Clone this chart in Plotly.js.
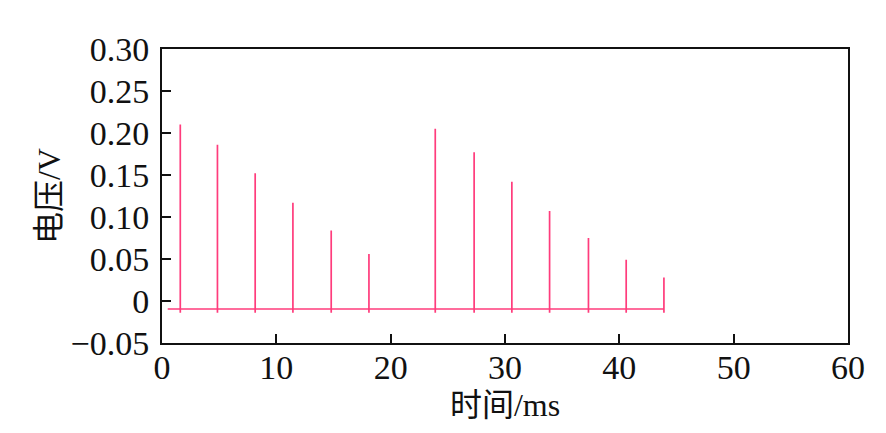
<!DOCTYPE html>
<html>
<head>
<meta charset="utf-8">
<script src="https://cdn.plot.ly/plotly-3.0.1.min.js"></script>
<style>
html, body { margin: 0; padding: 0; background: #fff; }
#chart { width: 886px; height: 433px; }
</style>
</head>
<body>
<div id="chart"></div>
<script>
// spike times (ms) and peak voltages (V)
var spikeTimes = [1.6, 4.85, 8.15, 11.45, 14.8, 18.1, 23.9, 27.3, 30.6, 33.9, 37.3, 40.6, 43.9]
var spikePeaks = [0.210, 0.186, 0.152, 0.117, 0.084, 0.056, 0.205, 0.177, 0.142, 0.107, 0.075, 0.049, 0.028]
var baseLevel = -0.0095
var dipLevel = -0.014
var startTime = 0.5

var xs = [startTime]
var ys = [baseLevel]
for (var i = 0; i < spikeTimes.length; i++)
{
	var t = spikeTimes[i]
	xs.push(t, t, t)
	ys.push(baseLevel, spikePeaks[i], dipLevel)
	if (i < spikeTimes.length - 1)
	{
		xs.push(t)
		ys.push(baseLevel)
	}
}
// last spike ends the record
xs.push(spikeTimes[spikeTimes.length-1])
ys.push(baseLevel)

var trace = {
	type: 'scatter',
	mode: 'lines',
	x: xs,
	y: ys,
	line: {color: '#ff3c7c', width: 1.7},
	hoverinfo: 'skip'
}

var fam = '"Liberation Serif", "Times New Roman", "Noto Sans CJK SC", serif'

var layout = {
	width: 886,
	height: 433,
	margin: {l: 162, r: 38, t: 49, b: 90},
	paper_bgcolor: '#fff',
	plot_bgcolor: '#fff',
	showlegend: false,
	font: {family: fam, size: 34, color: '#111'},
	xaxis: {
		range: [0, 60],
		tickvals: [0, 10, 20, 30, 40, 50, 60],
		ticktext: ['0', '10', '20', '30', '40', '50', '60'],
		tickfont: {family: fam, size: 34, color: '#111'},
		ticks: 'inside',
		ticklen: 9,
		tickwidth: 2,
		tickcolor: '#111',
		showline: true,
		linecolor: '#111',
		linewidth: 2,
		mirror: true,
		showgrid: false,
		zeroline: false,
		ticklabelstandoff: -7,
		title: {text: '时间/ms', font: {family: fam, size: 32}, standoff: 9}
	},
	yaxis: {
		range: [-0.05, 0.30],
		tickvals: [-0.05, 0, 0.05, 0.10, 0.15, 0.20, 0.25, 0.30],
		ticktext: ['\u22120.05', '0', '0.05', '0.10', '0.15', '0.20', '0.25', '0.30'],
		tickfont: {family: fam, size: 34, color: '#111'},
		ticks: 'inside',
		ticklen: 9,
		tickwidth: 2,
		tickcolor: '#111',
		showline: true,
		linecolor: '#111',
		linewidth: 2,
		mirror: true,
		showgrid: false,
		zeroline: false,
		ticklabelstandoff: 4,
		title: {text: '电压/V', font: {family: fam, size: 32}, standoff: 0}
	}
}

Plotly.newPlot('chart', [trace], layout, {displayModeBar: false, staticPlot: true})
</script>
</body>
</html>
